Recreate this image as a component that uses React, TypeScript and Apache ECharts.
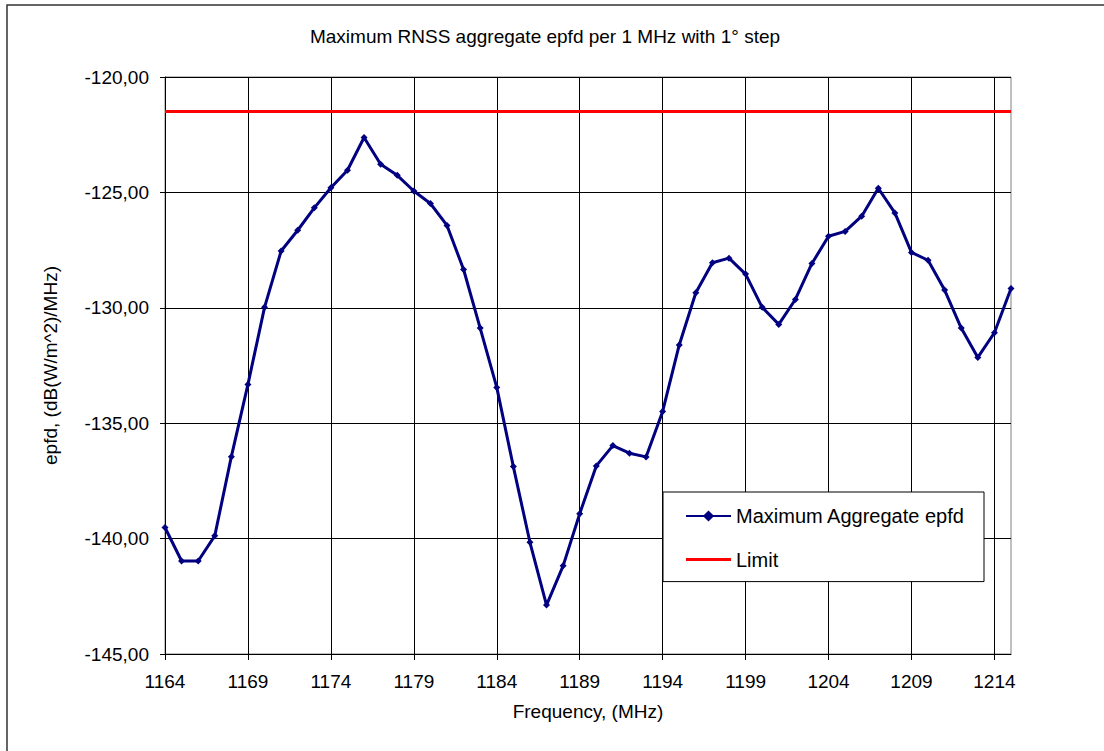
import React, { useEffect, useRef } from "react";
import * as echarts from "echarts";

const frequencies: string[] = [
  "1164", "1165", "1166", "1167", "1168", "1169", "1170", "1171", "1172", "1173",
  "1174", "1175", "1176", "1177", "1178", "1179", "1180", "1181", "1182", "1183",
  "1184", "1185", "1186", "1187", "1188", "1189", "1190", "1191", "1192", "1193",
  "1194", "1195", "1196", "1197", "1198", "1199", "1200", "1201", "1202", "1203",
  "1204", "1205", "1206", "1207", "1208", "1209", "1210", "1211", "1212", "1213",
  "1214", "1215",
];

const maxAggregateEpfd: number[] = [
  -139.52, -140.97, -140.97, -139.88, -136.45, -133.32, -129.98, -127.54, -126.64, -125.67,
  -124.8, -124.04, -122.62, -123.78, -124.26, -124.94, -125.48, -126.43, -128.34, -130.88,
  -133.45, -136.88, -140.16, -142.88, -141.18, -138.92, -136.85, -135.97, -136.3, -136.46,
  -134.49, -131.61, -129.35, -128.05, -127.85, -128.54, -129.98, -130.72, -129.64, -128.08,
  -126.9, -126.69, -126.03, -124.82, -125.89, -127.6, -127.94, -129.23, -130.88, -132.15,
  -131.08, -129.16,
];

const limitValue = -121.5;
const limitSeries: number[] = frequencies.map(() => limitValue);

const FONT = "'Liberation Sans', Arial, sans-serif";

export default function App() {
  const ref = useRef<HTMLDivElement>(null);

  useEffect(() => {
    if (!ref.current) return;
    const chart = echarts.init(ref.current, null, { renderer: "svg" });
    chart.setOption({
      animation: false,
      backgroundColor: "#ffffff",
      textStyle: { fontFamily: FONT },
      title: {
        text: "Maximum RNSS aggregate epfd per 1 MHz with 1° step",
        left: 540,
        top: 22,
        textAlign: "center",
        textStyle: { fontFamily: FONT, fontSize: 19, fontWeight: "normal", color: "#000" },
      },
      graphic: [
        {
          type: "rect",
          shape: { x: 7, y: 5, width: 1200, height: 900 },
          style: { fill: "none", stroke: "#333", lineWidth: 1.5 },
          silent: true,
          z: 0,
        },
      ],
      legend: {
        orient: "vertical",
        left: 663,
        top: 492,
        padding: [14, 19, 12, 22],
        itemWidth: 45,
        itemHeight: 14,
        itemGap: 23.6,
        backgroundColor: "#ffffff",
        borderColor: "#000",
        borderWidth: 1,
        borderRadius: 0,
        textStyle: { fontFamily: FONT, fontSize: 20, color: "#000" },
        data: [
          "Maximum Aggregate epfd",
          { name: "Limit", icon: "path://M0,0 L45,0 L45,3 L0,3 Z" },
        ],
      },
      grid: {
        left: 165,
        top: 77,
        right: 93,
        bottom: 97,
        show: true,
        borderColor: "#808080",
        borderWidth: 1,
      },
      xAxis: {
        type: "category",
        data: frequencies,
        boundaryGap: false,
        name: "Frequency, (MHz)",
        nameLocation: "middle",
        nameGap: 48,
        nameTextStyle: { fontFamily: FONT, fontSize: 19, color: "#000" },
        axisLine: { show: true, lineStyle: { color: "#000", width: 1 } },
        axisTick: { show: true, interval: 4, length: 6, inside: false, lineStyle: { color: "#000" } },
        axisLabel: { interval: 4, margin: 18, fontFamily: FONT, fontSize: 19, color: "#000" },
        splitLine: { show: true, interval: 4, lineStyle: { color: "#000", width: 1 } },
      },
      yAxis: {
        type: "value",
        min: -145,
        max: -120,
        interval: 5,
        name: "epfd, (dB(W/m^2)/MHz)",
        nameLocation: "middle",
        nameGap: 105,
        nameTextStyle: { fontFamily: FONT, fontSize: 19, color: "#000" },
        axisLine: { show: true, lineStyle: { color: "#000", width: 1 } },
        axisTick: { show: true, length: 5, inside: false, lineStyle: { color: "#000" } },
        axisLabel: {
          margin: 16,
          fontFamily: FONT,
          fontSize: 19,
          color: "#000",
          formatter: (v: number) => v.toFixed(2).replace(".", ","),
        },
        splitLine: { show: true, lineStyle: { color: "#000", width: 1 } },
      },
      series: [
        {
          name: "Maximum Aggregate epfd",
          type: "line",
          data: maxAggregateEpfd,
          symbol: "diamond",
          symbolSize: 7,
          showAllSymbol: true,
          lineStyle: { color: "#000080", width: 3 },
          itemStyle: { color: "#000080" },
          z: 3,
        },
        {
          name: "Limit",
          type: "line",
          data: limitSeries,
          symbol: "none",
          lineStyle: { color: "#ff0000", width: 3 },
          itemStyle: { color: "#ff0000" },
          z: 2,
        },
      ],
    });
    return () => chart.dispose();
  }, []);

  return (
    <div
      ref={ref}
      style={{ position: "fixed", left: 0, top: 0, width: 1104, height: 751, background: "#fff" }}
    />
  );
}
